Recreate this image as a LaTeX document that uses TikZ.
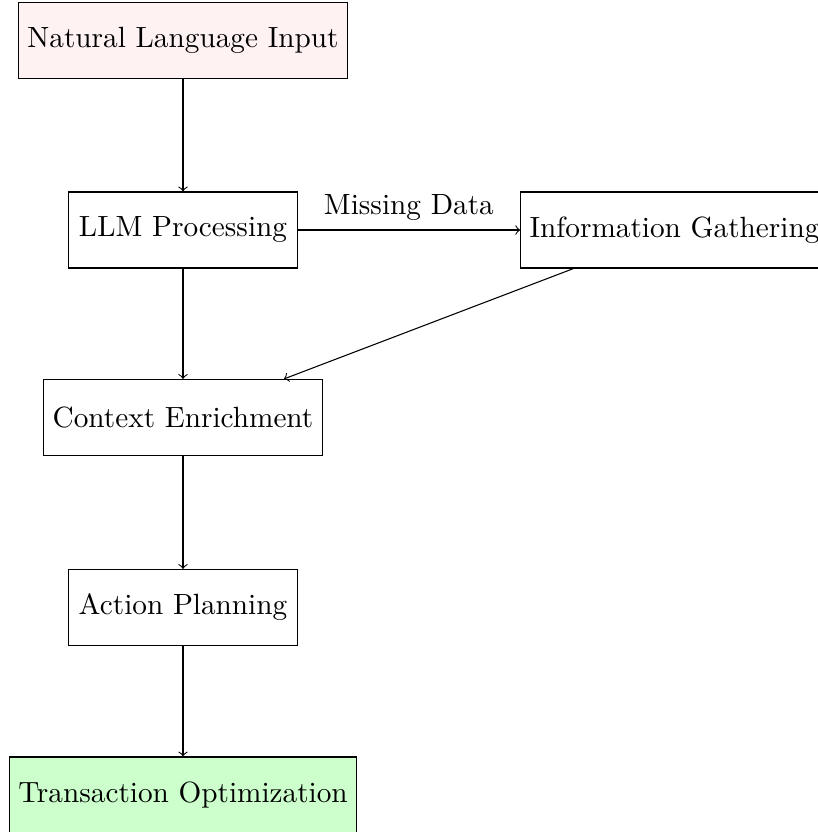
\documentclass[tikz,border=0pt]{standalone}
\usetikzlibrary{arrows}
\begin{document}
\begin{tikzpicture}[x=0.0131579cm,y=-0.0131579cm,
  box/.style={draw, rectangle, minimum width=3cm, minimum height=1cm,
    font=\fontsize{10.95}{13.6}\selectfont},
  lbl/.style={font=\fontsize{10.95}{13.6}\selectfont},
  arr/.style={->}]
\useasboundingbox (0,0) rectangle (818,832);
\node[box, fill=red!5] (nli) at (183,40.5) {Natural Language Input};
\node[box] (llm) at (183,230) {LLM Processing};
\node[box] (info) at (674.5,230) {Information Gathering};
\node[box] (ctx) at (183,417.5) {Context Enrichment};
\node[box] (act) at (183,607.5) {Action Planning};
\node[box, fill=green!20] (tro) at (183,795) {Transaction Optimization};
\draw[arr] (nli) -- (llm);
\draw[arr] (llm) -- node[lbl, above] {Missing Data} (info);
\draw[arr] (llm) -- (ctx);
\draw[arr] (info) -- (ctx);
\draw[arr] (ctx) -- (act);
\draw[arr] (act) -- (tro);
\end{tikzpicture}
\end{document}
